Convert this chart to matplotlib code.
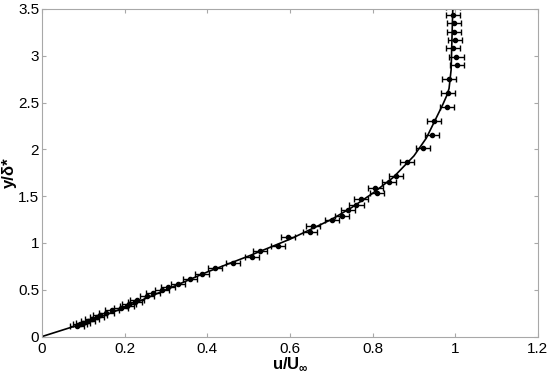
import matplotlib
matplotlib.use("Agg")
import matplotlib.pyplot as plt

# measured points (u/U_inf, y/delta*)
u_meas = [0.085, 0.092, 0.100, 0.112, 0.120, 0.132, 0.140, 0.156, 0.169,
          0.190, 0.205, 0.210, 0.225, 0.229, 0.253, 0.268, 0.290, 0.306,
          0.330, 0.357, 0.386, 0.419, 0.463, 0.509, 0.527, 0.572, 0.596,
          0.648, 0.656, 0.702, 0.725, 0.741, 0.761, 0.773, 0.810, 0.807,
          0.840, 0.856, 0.884, 0.921, 0.943, 0.948, 0.979, 0.983, 0.985,
          1.005, 1.003, 0.994, 1.000, 0.997, 0.997, 0.994, 0.995]
y_meas = [0.11, 0.13, 0.15, 0.17, 0.19, 0.21, 0.23, 0.25, 0.28,
          0.31, 0.33, 0.35, 0.37, 0.39, 0.43, 0.46, 0.50, 0.53,
          0.56, 0.61, 0.67, 0.73, 0.79, 0.85, 0.91, 0.97, 1.06,
          1.12, 1.18, 1.24, 1.29, 1.35, 1.41, 1.47, 1.53, 1.59,
          1.65, 1.71, 1.86, 2.01, 2.15, 2.30, 2.45, 2.60, 2.75,
          2.90, 2.99, 3.08, 3.17, 3.25, 3.35, 3.43, 3.52]
u_err = 0.017

# fitted profile
u_fit = [0, 0.1, 0.2, 0.3, 0.4, 0.5, 0.6, 0.7, 0.75, 0.8, 0.85, 0.9,
         0.93, 0.95, 0.97, 0.98, 0.985, 0.99, 0.994]
y_fit = [0, 0.14, 0.31, 0.50, 0.69, 0.86, 1.04, 1.25, 1.38, 1.53, 1.70,
         1.93, 2.12, 2.30, 2.48, 2.58, 2.65, 2.85, 3.5]

plt.rcParams['font.family'] = ['Liberation Sans', 'DejaVu Sans']
plt.rcParams['mathtext.fontset'] = 'custom'
plt.rcParams['mathtext.bf'] = 'Liberation Sans:bold'
plt.rcParams['mathtext.rm'] = 'Liberation Sans:bold'

fig = plt.figure(figsize=(5.5, 3.82), dpi=100)
ax = fig.add_axes([0.0764, 0.119, 0.9016, 0.8576])

ax.plot(u_fit, y_fit, color='k', lw=1.2)
ax.errorbar(u_meas, y_meas, xerr=u_err, fmt='o', color='k', ms=3,
            elinewidth=1, capsize=2.5, capthick=1)

ax.set_xlim(0, 1.2)
ax.set_ylim(0, 3.5)
ax.set_xticks([0, 0.2, 0.4, 0.6, 0.8, 1, 1.2])
ax.set_xticklabels(['0', '0.2', '0.4', '0.6', '0.8', '1', '1.2'])
ax.set_yticks([0, 0.5, 1, 1.5, 2, 2.5, 3, 3.5])
ax.set_yticklabels(['0', '0.5', '1', '1.5', '2', '2.5', '3', '3.5'])

for s in ax.spines.values():
    s.set_color('#a8a8a8')
ax.tick_params(direction='in', top=True, right=True, length=3,
               color='#a8a8a8', labelsize=11)
ax.tick_params(axis='x', pad=4)
ax.tick_params(axis='y', pad=2)

ax.set_xlabel(r'u/U$_{\mathbf{\infty}}$', fontsize=12, fontweight='bold', labelpad=-1)
ax.set_ylabel('y/δ*', fontsize=12, fontweight='bold', labelpad=1)

fig.savefig('out.png', dpi=100)
